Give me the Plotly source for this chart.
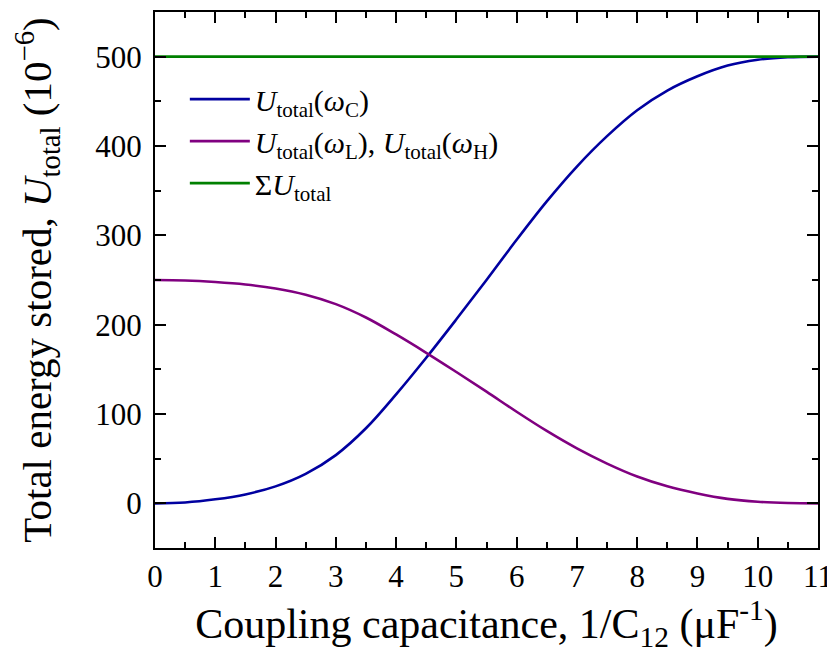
import plotly.graph_objects as go

# Data
x_vals = [0, 0.5, 1, 1.5, 2, 2.5, 3, 3.5, 4, 4.5, 5, 5.5, 6, 6.5, 7, 7.5, 8, 8.5, 9, 9.5, 10, 10.5, 11]
u_c = [0, 1, 4.5, 10, 19, 33, 54, 84, 122, 163, 206, 250, 295, 338, 377, 411, 440, 462, 478, 490, 496.5, 499.3, 500]
u_lh = [250, 249.5, 247.75, 245, 240.5, 233.5, 223, 208, 189, 168.5, 147, 125, 102.5, 81, 61.5, 44.5, 30, 19, 11, 5, 1.75, 0.35, 0]
u_sum = [500] * len(x_vals)

x_ticks = list(range(0, 12))
y_ticks = [0, 100, 200, 300, 400, 500]

FONT = "Liberation Serif"
SUB = '<sub style="font-size:16px">{}</sub>'

fig = go.Figure()
fig.add_trace(go.Scatter(x=x_vals, y=u_c, mode="lines", line=dict(color="#0000A0", width=2.6, shape="spline"),
                         name="<i>U</i>" + SUB.format("total") + "(<i>ω</i>" + SUB.format("C") + ")"))
fig.add_trace(go.Scatter(x=x_vals, y=u_lh, mode="lines", line=dict(color="#800080", width=2.6, shape="spline"),
                         name="<i>U</i>" + SUB.format("total") + "(<i>ω</i>" + SUB.format("L") + "), <i>U</i>"
                         + SUB.format("total") + "(<i>ω</i>" + SUB.format("H") + ")"))
fig.add_trace(go.Scatter(x=x_vals, y=u_sum, mode="lines", line=dict(color="#008000", width=2.6),
                         name="Σ<i>U</i>" + SUB.format("total")))

axis_common = dict(
    showline=True, linecolor="black", linewidth=2, mirror="ticks",
    ticks="inside", ticklen=11, tickwidth=2, tickcolor="black",
    showgrid=False, zeroline=False, ticklabeloverflow="allow",
    tickfont=dict(family=FONT, size=31, color="black"),
)

fig.update_xaxes(range=[0, 11], tickvals=x_ticks,
                 minor=dict(dtick=0.5, ticks="inside", ticklen=6, tickwidth=2, tickcolor="black"),
                 title=dict(text="Coupling capacitance, 1/C<sub>12</sub> (μF<sup>-1</sup>)",
                            font=dict(family=FONT, size=42, color="black"), standoff=0),
                 **axis_common)
fig.update_yaxes(range=[-50, 550], tickvals=y_ticks, ticklabelstandoff=5,
                 minor=dict(dtick=50, ticks="inside", ticklen=6, tickwidth=2, tickcolor="black"),
                 title=dict(text="Total energy stored, <i>U</i><sub>total</sub> (10<sup>−6</sup>)",
                            font=dict(family=FONT, size=41, color="black"), standoff=34),
                 **axis_common)

fig.update_layout(
    width=827, height=648,
    margin=dict(l=147, r=13, t=2, b=108),
    plot_bgcolor="white", paper_bgcolor="white",
    showlegend=True,
    legend=dict(x=0.045, y=0.886, xanchor="left", yanchor="top", bgcolor="rgba(0,0,0,0)",
                font=dict(family=FONT, size=30, color="black"), itemwidth=60, tracegroupgap=0),
)

fig.write_html("out.html")
